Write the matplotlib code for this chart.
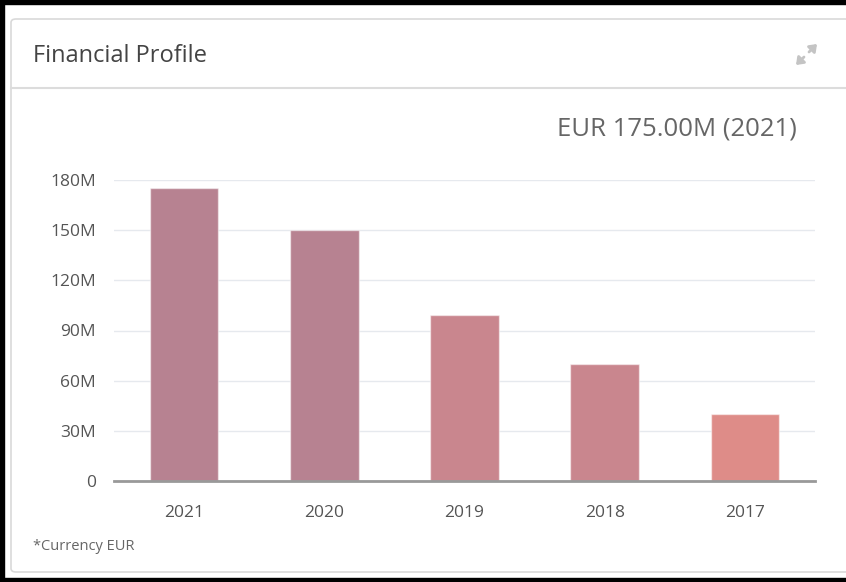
import matplotlib
matplotlib.use("Agg")
import matplotlib.pyplot as plt
from matplotlib.patches import FancyBboxPatch, Rectangle, FancyArrowPatch
from matplotlib.lines import Line2D

years = ["2021", "2020", "2019", "2018", "2017"]
revenue_m = [175, 150, 99, 70, 40]
bar_colors = ["#B78291", "#B78291", "#C9868E", "#C9868E", "#DE8C88"]
ytick_vals = [0, 30, 60, 90, 120, 150, 180]
ytick_labels = ["0", "30M", "60M", "90M", "120M", "150M", "180M"]
title = "Financial Profile"
headline = "EUR 175.00M (2021)"
footnote = "*Currency EUR"

W, H = 846, 582
plt.rcParams['font.family'] = ['Open Sans', 'DejaVu Sans']
fig = plt.figure(figsize=(W / 100, H / 100), dpi=100)
fig.patch.set_facecolor("white")

def fx(x):
    return x / W

def fy(y):
    return 1 - y / H

# black frame (left, top, bottom)
fig.patches.append(Rectangle((0, 0), fx(4), 1, transform=fig.transFigure, color="black", zorder=0))
fig.patches.append(Rectangle((0, fy(4)), 1, 4 / H, transform=fig.transFigure, color="black", zorder=0))
fig.patches.append(Rectangle((0, 0), 1, 4 / H, transform=fig.transFigure, color="black", zorder=0))

# card
card = FancyBboxPatch((fx(11), fy(572)), fx(850) - fx(11), (572 - 19) / H,
                      boxstyle="round,pad=0,rounding_size=0.006",
                      transform=fig.transFigure, facecolor="white",
                      edgecolor="#D9D9D9", linewidth=1.2, zorder=1)
fig.patches.append(card)
fig.lines.append(Line2D([fx(11), fx(846)], [fy(88), fy(88)], transform=fig.transFigure,
                        color="#DCDCDC", linewidth=1.5, zorder=2))

fig.text(fx(33), fy(56), title, fontsize=17, color="#444444", va="center", ha="left", zorder=3)
fig.text(fx(797), fy(129), headline, fontsize=18.5, color="#666666", va="center", ha="right", zorder=3)
fig.text(fx(33), fy(547), footnote, fontsize=10.5, color="#666666", va="center", ha="left", zorder=3)

# expand icon (arrows pointing outward)
for (x0, y0, x1, y1) in [(804, 57, 796, 65), (809, 52, 817, 44)]:
    fig.patches.append(FancyArrowPatch(
        (fx(x0), fy(y0)), (fx(x1), fy(y1)), transform=fig.transFigure,
        arrowstyle="-|>,head_length=4,head_width=3", color="#C4C4C4", linewidth=2,
        mutation_scale=1, shrinkA=0, shrinkB=0, zorder=3))

ax = fig.add_axes([fx(114), fy(481), fx(815) - fx(114), (481 - 180) / H])
ax.set_zorder(5)
ax.set_facecolor("none")
x = range(len(years))
ax.bar(x, revenue_m, width=0.49, color=bar_colors, edgecolor=(1, 1, 1, 0.5), linewidth=1, zorder=3)
ax.set_xlim(-0.5, len(years) - 0.5)
ax.set_ylim(0, 180)
ax.set_yticks(ytick_vals)
ax.set_yticklabels(ytick_labels)
ax.set_xticks(list(x))
ax.set_xticklabels(years)
ax.grid(axis="y", color="#E6E9EE", linewidth=1, zorder=0)
for s in ["top", "right", "left"]:
    ax.spines[s].set_visible(False)
ax.spines["bottom"].set_color("#999999")
ax.spines["bottom"].set_linewidth(2)
ax.spines["bottom"].set_zorder(4)
ax.tick_params(axis="both", length=0, labelsize=12.5, colors="#555555")
ax.tick_params(axis="y", pad=13)
ax.tick_params(axis="x", pad=17)

fig.savefig("out.png", dpi=100, facecolor="white")
